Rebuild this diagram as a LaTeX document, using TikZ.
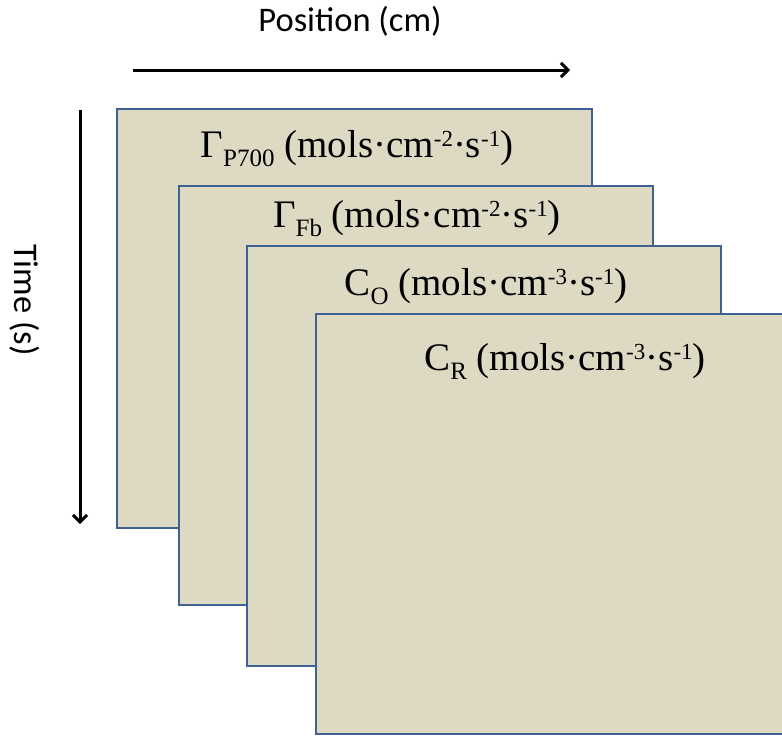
\documentclass[tikz,border=0pt]{standalone}
\usepackage{fontspec}
\setmainfont{Liberation Serif}
\newfontfamily\axisfont{Carlito}
\usetikzlibrary{arrows.meta}

\definecolor{sheetfill}{RGB}{221,217,195}
\definecolor{sheetedge}{RGB}{62,98,148}

% sub- and superscripts used in the quantity labels
\newcommand{\qsub}[1]{\raisebox{-9pt}{\fontsize{25}{25}\selectfont #1}}
\newcommand{\qsup}[1]{\raisebox{11pt}{\fontsize{23}{23}\selectfont #1}}

\tikzset{
  sheet/.style={fill=sheetfill, draw=sheetedge, line width=2.8pt},
  qlabel/.style={font=\fontsize{39}{42}\selectfont, inner sep=0pt, anchor=base},
  axislabel/.style={font=\axisfont\fontsize{34.5}{38}\selectfont, inner sep=0pt},
  axisarrow/.style={line width=3pt, -{Straight Barb[length=7pt,width=14pt,line width=3pt]}}
}

\begin{document}
\begin{tikzpicture}[x=1pt,y=-1pt]
  \useasboundingbox (0,0) rectangle (782,736);
  \clip (0,0) rectangle (782,736);

  % axes
  \coordinate (px0) at (133,70);
  \coordinate (px1) at (570,70);
  \coordinate (tm0) at (80,110);
  \coordinate (tm1) at (80,524);
  \draw[axisarrow] (px0) -- (px1);
  \draw[axisarrow] (tm0) -- (tm1);
  \node[axislabel] (poslabel) at (350,21) {Position (cm)};
  \node[axislabel, rotate=-90] (timelabel) at (25,300) {Time (s)};

  % stacked sheets, back to front
  \draw[sheet] (117,109) rectangle (592,528);
  \node[qlabel] (gp700) at (357,157) {Γ\qsub{P700} (mols·cm\qsup{-2}·s\qsup{-1})};

  \draw[sheet] (179,186) rectangle (653,605);
  \node[qlabel] (gfb) at (417,227) {Γ\qsub{Fb} (mols·cm\qsup{-2}·s\qsup{-1})};

  \draw[sheet] (247,246) rectangle (721,666);
  \node[qlabel] (co) at (486,295) {C\qsub{O} (mols·cm\qsup{-3}·s\qsup{-1})};

  \draw[sheet] (316,314) rectangle (791,734);
  \node[qlabel] (cr) at (565,370) {C\qsub{R} (mols·cm\qsup{-3}·s\qsup{-1})};
\end{tikzpicture}
\end{document}
